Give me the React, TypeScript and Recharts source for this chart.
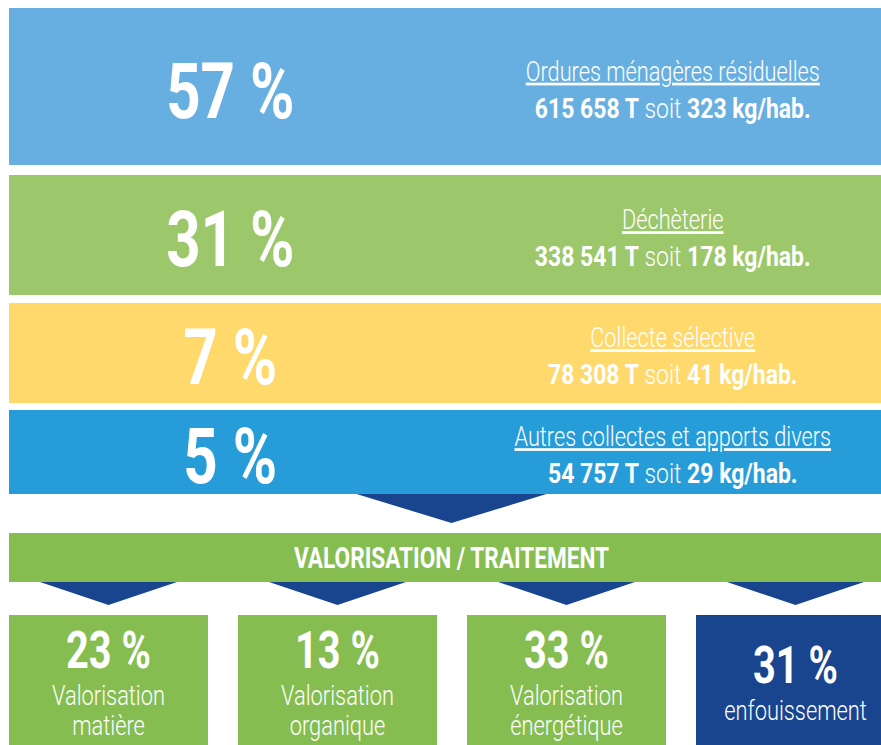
import { BarChart, Bar, XAxis, YAxis } from 'recharts'

const sourceNames = [
  'Ordures ménagères résiduelles',
  'Déchèterie',
  'Collecte sélective',
  'Autres collectes et apports divers',
]
const sourceShares = [57, 31, 7, 5]
const sourceTonnes = ['615 658', '338 541', '78 308', '54 757']
const sourceKgHab = [323, 178, 41, 29]

const stageTitle = 'VALORISATION / TRAITEMENT'

const treatmentLines = [
  ['Valorisation', 'matière'],
  ['Valorisation', 'organique'],
  ['Valorisation', 'énergétique'],
  ['enfouissement'],
]
const treatmentShares = [23, 13, 33, 31]

// look & layout
const navy = '#19458f'
const green = '#85bd51'
const rowColors = ['#67afe0', '#9cc76b', '#ffd96b', '#269dd9']
const treatmentColors = [green, green, green, navy]
const rowTops = [8, 175, 303, 410]
const rowHeights = [157, 120, 100, 84]
const PAD = 14
const FONT = 'Roboto, "Liberation Sans", sans-serif'
const SX = 0.78

const scaled = (x: number, y: number, sx = SX) => `translate(${x},${y}) scale(${sx},1)`

const RowShape = (props: any) => {
  const { background, payload } = props
  const { x, y, width, height } = background
  const cy = y + height / 2
  return (
    <g>
      <rect x={x} y={y} width={width} height={height} fill={payload.color} />
      <text
        transform={scaled(x + width * 0.25, cy + 31)}
        textAnchor="middle"
        fill="#fff"
        fontSize={77}
        fontWeight={700}
        fontFamily={FONT}
      >
        {`${payload.share} %`}
      </text>
      <text
        transform={scaled(x + width * 0.75, cy - 6, 0.805)}
        textAnchor="middle"
        fill="#fff"
        fontSize={27}
        fontWeight={300}
        fontFamily={FONT}
        style={{ textDecoration: 'underline' }}
      >
        {payload.name}
      </text>
      <text
        transform={scaled(x + width * 0.75, cy + 31, 0.82)}
        textAnchor="middle"
        fill="#fff"
        fontSize={28}
        fontFamily={FONT}
      >
        <tspan fontWeight={700}>{`${payload.tonnes} T`}</tspan>
        <tspan fontWeight={300}>{' soit '}</tspan>
        <tspan fontWeight={700}>{`${payload.kg} kg/hab.`}</tspan>
      </text>
    </g>
  )
}

const SourceRow = ({ i }: { i: number }) => {
  const data = [
    {
      name: sourceNames[i],
      share: sourceShares[i],
      tonnes: sourceTonnes[i],
      kg: sourceKgHab[i],
      color: rowColors[i],
    },
  ]
  return (
    <div style={{ position: 'absolute', left: 9, top: rowTops[i] - PAD }}>
      <BarChart
        layout="vertical"
        width={885}
        height={rowHeights[i] + 2 * PAD}
        data={data}
        margin={{ top: PAD, right: 0, bottom: PAD, left: 0 }}
        barCategoryGap={0}
      >
        <XAxis type="number" domain={[0, 100]} hide />
        <YAxis type="category" dataKey="name" hide />
        <Bar
          dataKey="share"
          isAnimationActive={false}
          background={{ fill: rowColors[i] }}
          shape={RowShape}
        />
      </BarChart>
    </div>
  )
}

const HeaderShape = (props: any) => {
  const { background, payload } = props
  const { x, y, width, height } = background
  const cx = x + width / 2
  return (
    <g>
      <polygon
        points={`${cx - 95},${y - 39} ${cx + 95},${y - 39} ${cx},${y - 10}`}
        fill={navy}
      />
      <rect x={x} y={y} width={width} height={height} fill={green} />
      <text
        transform={scaled(cx, y + height / 2 + 10.5)}
        textAnchor="middle"
        fill="#fff"
        fontSize={29}
        fontWeight={700}
        fontFamily={FONT}
      >
        {payload.name}
      </text>
    </g>
  )
}

const BoxShape = (props: any) => {
  const { background, payload } = props
  const { x, y, width, height } = background
  const cx = x + width / 2
  const lines: string[] = payload.lines
  const blockH = 36 + 37 + 30 * (lines.length - 1)
  const top = y + 68.5 - blockH / 2
  return (
    <g>
      <polygon
        points={`${cx - 68.5},${y - 33} ${cx + 68.5},${y - 33} ${cx},${y - 10}`}
        fill={navy}
      />
      <rect x={x} y={y} width={width} height={height} fill={payload.color} />
      <text
        transform={scaled(cx, top + 36)}
        textAnchor="middle"
        fill="#fff"
        fontSize={51}
        fontWeight={700}
        fontFamily={FONT}
      >
        {`${payload.share} %`}
      </text>
      {lines.map((line, k) => (
        <text
          key={k}
          transform={scaled(cx, top + 73 + k * 30)}
          textAnchor="middle"
          fill="#fff"
          fontSize={28}
          fontWeight={300}
          fontFamily={FONT}
        >
          {line}
        </text>
      ))}
    </g>
  )
}

export default function App() {
  const headerData = [
    { name: stageTitle, total: treatmentShares.reduce((a, b) => a + b, 0) },
  ]
  const treatmentData = treatmentShares.map((share, i) => ({
    key: treatmentLines[i].join(' '),
    share,
    lines: treatmentLines[i],
    color: treatmentColors[i],
  }))

  return (
    <div
      style={{
        position: 'fixed',
        left: 0,
        top: 0,
        width: 881,
        height: 745,
        overflow: 'hidden',
        background: '#fff',
      }}
    >
      {sourceNames.map((_, i) => (
        <SourceRow key={i} i={i} />
      ))}

      <div style={{ position: 'absolute', left: 9, top: 494 }}>
        <BarChart
          layout="vertical"
          width={885}
          height={88}
          data={headerData}
          margin={{ top: 39, right: 0, bottom: 0, left: 0 }}
          barCategoryGap={0}
        >
          <XAxis type="number" domain={[0, 100]} hide />
          <YAxis type="category" dataKey="name" hide />
          <Bar
            dataKey="total"
            isAnimationActive={false}
            background={{ fill: 'transparent' }}
            shape={HeaderShape}
          />
        </BarChart>
      </div>

      <div style={{ position: 'absolute', left: -6, top: 582 }}>
        <BarChart
          width={916}
          height={163}
          data={treatmentData}
          margin={{ top: 33, right: 0, bottom: 0, left: 0 }}
          barCategoryGap={15}
        >
          <XAxis dataKey="key" hide />
          <YAxis domain={[0, 100]} hide />
          <Bar
            dataKey="share"
            isAnimationActive={false}
            background={{ fill: 'transparent' }}
            shape={BoxShape}
          />
        </BarChart>
      </div>
    </div>
  )
}
